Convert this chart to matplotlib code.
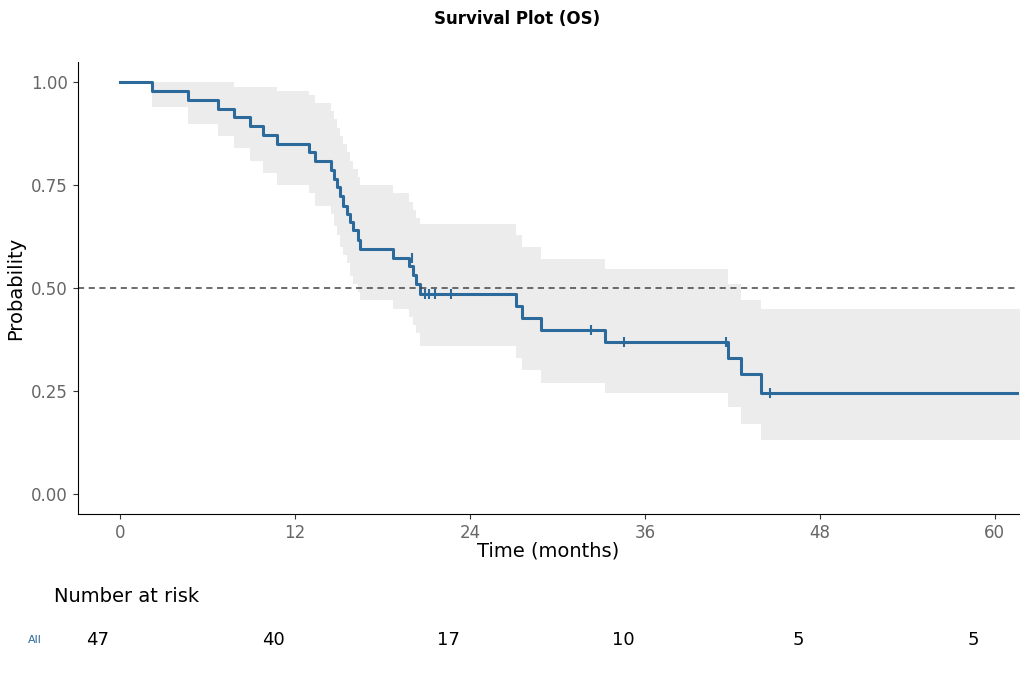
import matplotlib
matplotlib.use("Agg")
import matplotlib.pyplot as plt
import numpy as np

times = [0, 2.2, 4.7, 6.7, 7.8, 8.9, 9.8, 10.8, 13.0, 13.4, 14.5, 14.7, 14.9, 15.1, 15.3, 15.6, 15.8, 16.0, 16.3, 16.5,
         18.7, 19.8, 20.1, 20.3, 20.6, 27.2, 27.6, 28.9, 33.3, 41.7, 42.6, 44.0]
surv = [1.0, .979, .957, .936, .915, .894, .872, .851, .83, .809, .787, .766, .745, .723, .70, .68, .66, .64, .617, .596,
        .574, .553, .532, .51, .485, .455, .426, .398, .368, .33, .29, .245]
lower = [1.0, .94, .90, .87, .84, .81, .78, .75, .73, .70, .68, .65, .63, .60, .58, .56, .53, .51, .49, .47,
         .45, .43, .41, .39, .36, .33, .30, .27, .245, .21, .17, .13]
upper = [1.0, 1.0, 1.0, 1.0, .99, .99, .99, .98, .97, .95, .93, .91, .89, .87, .85, .83, .81, .79, .77, .75,
         .73, .71, .69, .67, .655, .63, .60, .57, .545, .51, .47, .45]
t_end = 62.0
cens_t = [20.0, 20.9, 21.2, 21.6, 22.7, 32.3, 34.6, 41.6, 44.6]
cens_s = [.574, .485, .485, .485, .485, .398, .368, .368, .245]
risk_times = [0, 12, 24, 36, 48, 60]
risk_n = [47, 40, 17, 10, 5, 5]

col = "#2b6a9b"
fig = plt.figure(figsize=(10.35, 6.8), dpi=100)
ax = fig.add_axes([0.075, 0.244, 0.910, 0.665])
T = times + [t_end]
S = surv + [surv[-1]]
L = lower + [lower[-1]]
U = upper + [upper[-1]]
ax.fill_between(T, L, U, step="post", color="#ececec", lw=0)
ax.step(T, S, where="post", color=col, lw=2.2)
ax.plot(cens_t, cens_s, "|", color=col, ms=7, mew=1.5)
ax.axhline(0.5, color="#444444", ls=(0, (4, 3)), lw=1.1)
ax.set_xlim(-2.9, 61.7)
ax.set_ylim(-0.05, 1.05)
ax.set_xticks(risk_times)
ax.set_yticks([0, .25, .5, .75, 1.0])
ax.set_yticklabels(["0.00", "0.25", "0.50", "0.75", "1.00"])
for s in ["top", "right"]:
    ax.spines[s].set_visible(False)
ax.tick_params(labelsize=12, colors="#333333", labelcolor="#666666")
ax.set_xlabel("Time (months)", fontsize=14, labelpad=0)
ax.set_ylabel("Probability", fontsize=14)
fig.text(0.5, 0.965, "Survival Plot (OS)", ha="center", fontsize=12, fontweight="bold")

rax = fig.add_axes([0.075, 0.019, 0.910, 0.08])
rax.set_xlim(-2.9, 61.7)
rax.set_ylim(0, 1)
rax.axis("off")
for t, n in zip(risk_times, risk_n):
    rax.text(t - 1.5, 0.5, str(n), ha="center", va="center", fontsize=13)
fig.text(0.052, 0.115, "Number at risk", fontsize=14)
fig.text(0.027, 0.059, "All", fontsize=8, color=col, va="center")
fig.savefig("out.png")
